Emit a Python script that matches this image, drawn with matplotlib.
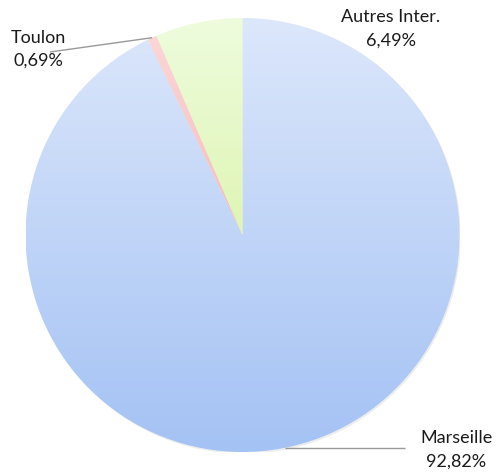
import numpy as np
import matplotlib
matplotlib.use("Agg")
import matplotlib.pyplot as plt
from matplotlib.colors import LinearSegmentedColormap

labels = ["Marseille", "Toulon", "Autres Inter."]
values = [92.82, 0.69, 6.49]
pct_labels = ["92,82%", "0,69%", "6,49%"]

top_colors = ["#dce7fb", "#fdd8d8", "#eefcdd"]
bottom_colors = ["#a4c2f4", "#f0a0a0", "#cfee8a"]

plt.rcParams['font.family'] = ['Lato', 'DejaVu Sans']

W, H = 498, 472
fig = plt.figure(figsize=(W / 100, H / 100), dpi=100)
cx, cy, r = 242.5, 235, 217
ax = fig.add_axes([(cx - r) / W, (H - cy - r) / H, 2 * r / W, 2 * r / H])
ax.set_xlim(-1, 1)
ax.set_ylim(-1, 1)
ax.axis('off')

# subtle shadow
shadow = plt.Circle((0.006, -0.008), 1.0, color="#000000", alpha=0.07, lw=0, zorder=0)
ax.add_patch(shadow)

wedges, _ = ax.pie(values, startangle=90, counterclock=False, radius=1,
                   wedgeprops=dict(lw=0, fc='none'))
ax.set_xlim(-1, 1)
ax.set_ylim(-1, 1)

grad = np.linspace(0, 1, 256).reshape(-1, 1)
for w, c0, c1 in zip(wedges, top_colors, bottom_colors):
    cmap = LinearSegmentedColormap.from_list("g", [c0, c1])
    im = ax.imshow(grad, cmap=cmap, extent=[-1, 1, -1, 1], origin='upper',
                   aspect='auto', zorder=1, interpolation='bilinear')
    im.set_clip_path(w)

def px(x, y):
    return ((x - cx) / r, (cy - y) / r)

fs = 13
ls = 1.55
tc = '#1a1a1a'
# Autres Inter. label
ax.text(*px(391, 29), f"{labels[2]}\n{pct_labels[2]}", ha='center', va='center',
        fontsize=fs, color=tc, linespacing=ls)
# Toulon label with leader line
theta = np.deg2rad((wedges[1].theta1 + wedges[1].theta2) / 2)
ax.plot([np.cos(theta), px(50, 52)[0]], [np.sin(theta), px(50, 52)[1]],
        color='#999999', lw=1, zorder=3, solid_capstyle='butt')
ax.text(*px(38, 49.5), f"{labels[1]}\n{pct_labels[1]}", ha='center', va='center',
        fontsize=fs, color=tc, linespacing=ls)
# Marseille label with leader line
ly = px(0, 447.7)[1]
lx = np.sqrt(1 - ly ** 2)
ax.plot([lx, px(405, 0)[0]], [ly, ly], color='#999999', lw=1, zorder=3,
        solid_capstyle='butt')
ax.text(*px(456, 450), f"{labels[0]}\n{pct_labels[0]}", ha='center', va='center',
        fontsize=fs, color=tc, linespacing=ls)

fig.savefig("out.png", dpi=100)
